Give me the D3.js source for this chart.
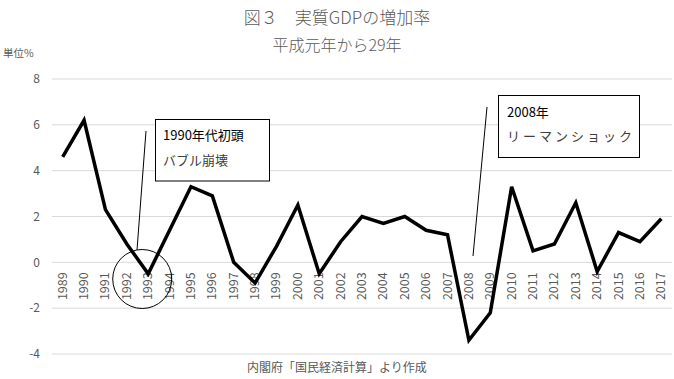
<!DOCTYPE html>
<html>
<head>
<meta charset="utf-8">
<script src="https://cdn.jsdelivr.net/npm/d3@7"></script>
<style>
  body { margin: 0; background: #fff; }
  text { font-family: "Noto Sans CJK JP", "Noto Sans", sans-serif; }
</style>
</head>
<body>
<div id="chart"></div>
<script>
// data
const years = ['1989','1990','1991','1992','1993','1994','1995','1996','1997','1998','1999','2000','2001','2002','2003',
  '2004','2005','2006','2007','2008','2009','2010','2011','2012','2013','2014','2015','2016','2017'];
const growth = [4.6, 6.2, 2.3, 0.8, -0.5, 1.4, 3.3, 2.9, 0.0, -0.9, 0.7, 2.5, -0.5, 0.9, 2.0,
  1.7, 2.0, 1.4, 1.2, -3.4, -2.2, 3.3, 0.5, 0.8, 2.6, -0.4, 1.3, 0.9, 1.9];
const yTicks = [-4, -2, 0, 2, 4, 6, 8];

const width = 674;
const height = 379;

const svg = d3.select('#chart').append('svg')
    .attr('width', width)
    .attr('height', height);

const x = d3.scaleBand().domain(years).range([52, 672]);
const y = d3.scaleLinear().domain([-4, 8]).range([354, 79]);

// gridlines
svg.append('g')
    .selectAll('line')
    .data(yTicks)
    .join('line')
    .attr('x1', 52)
    .attr('x2', 672)
    .attr('y1', d => y(d))
    .attr('y2', d => y(d))
    .attr('stroke', '#d9d9d9')
    .attr('stroke-width', 1);

// y labels
svg.append('g')
    .selectAll('text')
    .data(yTicks)
    .join('text')
    .attr('x', 40)
    .attr('y', d => y(d))
    .attr('dy', '0.35em')
    .attr('text-anchor', 'end')
    .attr('font-size', 12)
    .attr('fill', '#595959')
    .text(d => d);

// year labels, rotated, sitting just under the zero line
svg.append('g')
    .selectAll('text')
    .data(years)
    .join('text')
    .attr('transform', d => `translate(${x(d) + x.bandwidth() / 2 + 4},${y(0) + 10}) rotate(-90)`)
    .attr('text-anchor', 'end')
    .attr('font-size', 12.5)
    .attr('fill', '#595959')
    .text(d => d);

// the line
const line = d3.line()
    .x((d, i) => x(years[i]) + x.bandwidth() / 2)
    .y(d => y(d));

svg.append('path')
    .datum(growth)
    .attr('d', line)
    .attr('fill', 'none')
    .attr('stroke', '#000')
    .attr('stroke-width', 3.5)
    .attr('stroke-linejoin', 'miter');

// titles
svg.append('text')
    .attr('x', 337).attr('y', 24)
    .attr('text-anchor', 'middle')
    .attr('font-size', 17)
    .attr('font-weight', 300)
    .attr('fill', '#595959')
    .text('図３　実質GDPの増加率');

svg.append('text')
    .attr('x', 337).attr('y', 51)
    .attr('text-anchor', 'middle')
    .attr('font-size', 16)
    .attr('font-weight', 300)
    .attr('fill', '#595959')
    .text('平成元年から29年');

svg.append('text')
    .attr('x', 3).attr('y', 57)
    .attr('font-size', 10.5)
    .attr('fill', '#595959')
    .text('単位%');

svg.append('text')
    .attr('x', 337).attr('y', 372)
    .attr('text-anchor', 'middle')
    .attr('font-size', 12)
    .attr('fill', '#595959')
    .text('内閣府「国民経済計算」より作成');

// annotation: bubble burst
const cx93 = x('1993') + x.bandwidth() / 2;
svg.append('ellipse')
    .attr('cx', cx93 - 6).attr('cy', 279)
    .attr('rx', 29.5).attr('ry', 29.5)
    .attr('fill', 'none')
    .attr('stroke', '#000')
    .attr('stroke-width', 1);

svg.append('line')
    .attr('x1', 146).attr('y1', 131)
    .attr('x2', 137).attr('y2', 250)
    .attr('stroke', '#000')
    .attr('stroke-width', 1);

svg.append('rect')
    .attr('x', 155.5).attr('y', 119.5)
    .attr('width', 114).attr('height', 61.5)
    .attr('fill', '#fff')
    .attr('stroke', '#000')
    .attr('stroke-width', 1);

svg.append('text')
    .attr('x', 163).attr('y', 140)
    .attr('font-size', 13)
    .attr('fill', '#000')
    .text('1990年代初頭');

svg.append('text')
    .attr('x', 163).attr('y', 165)
    .attr('font-size', 13)
    .attr('fill', '#404040')
    .text('バブル崩壊');

// annotation: lehman
svg.append('line')
    .attr('x1', 487).attr('y1', 107)
    .attr('x2', 473).attr('y2', 256)
    .attr('stroke', '#000')
    .attr('stroke-width', 1);

svg.append('rect')
    .attr('x', 498.5).attr('y', 95.5)
    .attr('width', 141).attr('height', 62)
    .attr('fill', '#fff')
    .attr('stroke', '#000')
    .attr('stroke-width', 1);

svg.append('text')
    .attr('x', 507).attr('y', 117)
    .attr('font-size', 13)
    .attr('fill', '#000')
    .text('2008年');

svg.append('text')
    .attr('x', 507).attr('y', 141)
    .attr('font-size', 13)
    .attr('fill', '#404040')
    .attr('letter-spacing', 3)
    .text('リーマンショック');
</script>
</body>
</html>
